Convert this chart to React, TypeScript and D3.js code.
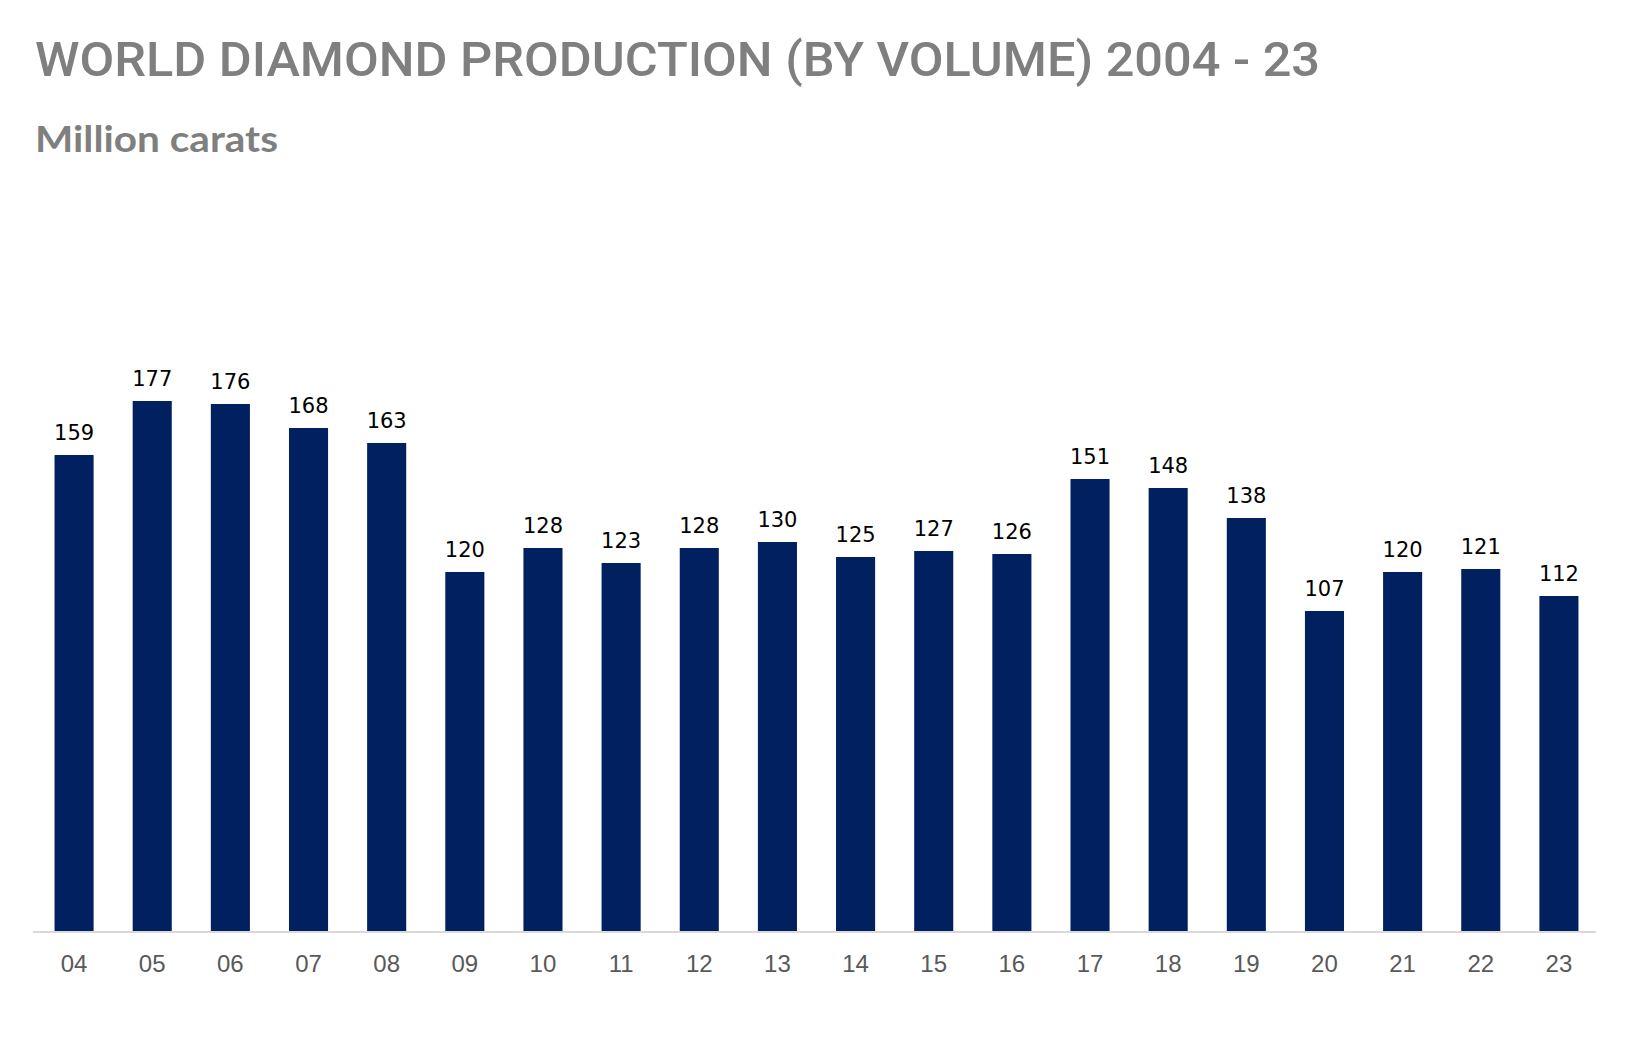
import React from "react";
import * as d3 from "d3";

const years = ["04", "05", "06", "07", "08", "09", "10", "11", "12", "13", "14", "15", "16", "17", "18", "19", "20", "21", "22", "23"];
const production = [159, 177, 176, 168, 163, 120, 128, 123, 128, 130, 125, 127, 126, 151, 148, 138, 107, 120, 121, 112];

const width = 1646;
const height = 1038;
const margin = { left: 35, right: 48, baseline: 932 };

const App: React.FC = () => {
  const x = d3.scaleBand<string>()
    .domain(years)
    .range([margin.left, width - margin.right])
    .paddingInner(0.5)
    .paddingOuter(0.25);

  const y = d3.scaleLinear()
    .domain([0, 200])
    .range([margin.baseline, margin.baseline - 600]);

  return (
    <svg width={width} height={height} style={{ position: "absolute", left: 0, top: 0, background: "#fff" }}>
      <text x={35} y={76} fontFamily="Roboto, Liberation Sans, sans-serif" fontWeight={500} fontSize={49} fill="#7f7f7f"
        textLength={1285} lengthAdjust="spacingAndGlyphs">
        WORLD DIAMOND PRODUCTION (BY VOLUME) 2004 - 23
      </text>
      <text x={35} y={152} fontFamily="Lato, sans-serif" fontWeight="bold" fontSize={36} fill="#7f7f7f"
        textLength={243} lengthAdjust="spacingAndGlyphs">
        Million carats
      </text>

      {production.map((v, i) => (
        <g key={years[i]}>
          <rect x={x(years[i])} y={y(v)} width={x.bandwidth()} height={y(0) - y(v)} fill="#002060" />
          <text x={x(years[i])! + x.bandwidth() / 2} y={y(v) - 15} textAnchor="middle"
            fontFamily="DejaVu Sans, sans-serif" fontSize={21} fill="#000">
            {v}
          </text>
        </g>
      ))}

      <line x1={33} x2={width - 50} y1={y(0)} y2={y(0)} stroke="#d9d9d9" strokeWidth={2} />

      {years.map((yr) => (
        <text key={yr} x={x(yr)! + x.bandwidth() / 2} y={972} textAnchor="middle"
          fontFamily="Liberation Sans, Arial, sans-serif" fontSize={24} fill="#595959">
          {yr}
        </text>
      ))}
    </svg>
  );
};

export default App;
